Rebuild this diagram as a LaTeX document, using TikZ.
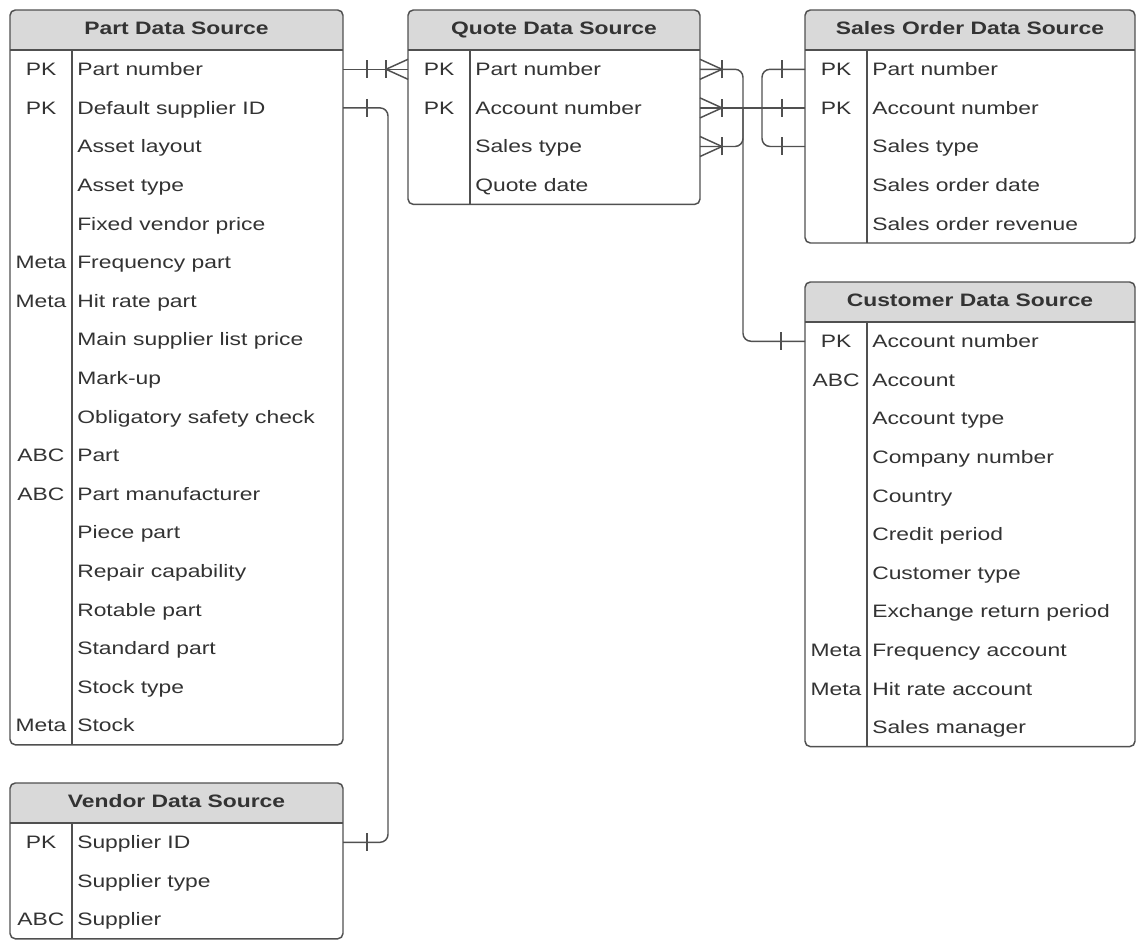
\documentclass[tikz,border=0pt]{standalone}
\usepackage{fontspec}
\setmainfont[FakeStretch=1.27]{Liberation Sans}
\usetikzlibrary{calc}
\definecolor{framegray}{HTML}{505050}
\definecolor{headgray}{HTML}{D9D9D9}
\definecolor{inkgray}{HTML}{333333}

\begin{document}
\begin{tikzpicture}[x=0.75pt, y=-0.75pt,
  font=\fontsize{13.5}{16}\selectfont, text=inkgray,
  datatable/.style={draw=framegray, line width=1.1pt, fill=white, rounded corners=4pt,
    inner sep=0pt, outer sep=0pt, anchor=north west,
    path picture={
      \fill[headgray, sharp corners] (path picture bounding box.north west) rectangle ([yshift=-30pt]path picture bounding box.north east);
      \draw[framegray, line width=1.1pt] ([yshift=-30pt]path picture bounding box.north west) -- ([yshift=-30pt]path picture bounding box.north east);
      \draw[framegray, line width=1.1pt] ([xshift=46.5pt,yshift=-30pt]path picture bounding box.north west) -- ([xshift=46.5pt]path picture bounding box.south west);}},
  tabletitle/.style={font=\fontsize{13.5}{16}\selectfont\bfseries, anchor=base},
  keytext/.style={inner sep=0pt, text height=9.7pt, text depth=0pt},
  fieldtext/.style={inner sep=0pt, text height=9.7pt, text depth=0pt, anchor=west},
  link/.style={draw=framegray, line width=1.1pt},
  onebar/.pic={\draw[link] (0,-9) -- (0,9);},
  manyfoot/.pic={\draw[link] (0,-10) -- (-22,0) -- (0,10); \draw[link] (-22,-9) -- (-22,9);}]
\useasboundingbox (0,0) rectangle (1136,941);
\fill[white] (0,0) rectangle (1136,941);

% tables
\node[datatable, minimum width=249.75pt, minimum height=551.1pt] (part) at (10,10) {};
\node[tabletitle] (part-title) at (176.5,34.5) {Part Data Source};
\foreach \k/\f [count=\i] in {PK/Part number, PK/Default supplier ID, /Asset layout, /Asset type,
  /Fixed vendor price, Meta/Frequency part, Meta/Hit rate part, /Main supplier list price, /Mark-up,
  /Obligatory safety check, ABC/Part, ABC/Part manufacturer, /Piece part, /Repair capability,
  /Rotable part, /Standard part, /Stock type, Meta/Stock}
{
  \node[keytext] (part-k\i) at (41,{30.7+38.6*\i}) {\k};
  \node[fieldtext] (part-\i) at (77,{30.7+38.6*\i}) {\f};
}

\node[datatable, minimum width=249.75pt, minimum height=116.85pt] (vendor) at (10,783) {};
\node[tabletitle] (vendor-title) at (176.5,807.5) {Vendor Data Source};
\foreach \k/\f [count=\i] in {PK/Supplier ID, /Supplier type, ABC/Supplier}
{
  \node[keytext] (vendor-k\i) at (41,{803.7+38.6*\i}) {\k};
  \node[fieldtext] (vendor-\i) at (77,{803.7+38.6*\i}) {\f};
}

\node[datatable, minimum width=219pt, minimum height=145.8pt] (quote) at (408,10) {};
\node[tabletitle] (quote-title) at (554,34.5) {Quote Data Source};
\foreach \k/\f [count=\i] in {PK/Part number, PK/Account number, /Sales type, /Quote date}
{
  \node[keytext] (quote-k\i) at (439,{30.7+38.6*\i}) {\k};
  \node[fieldtext] (quote-\i) at (475,{30.7+38.6*\i}) {\f};
}

\node[datatable, minimum width=247.5pt, minimum height=174.75pt] (sales) at (805,10) {};
\node[tabletitle] (sales-title) at (970,34.5) {Sales Order Data Source};
\foreach \k/\f [count=\i] in {PK/Part number, PK/Account number, /Sales type, /Sales order date,
  /Sales order revenue}
{
  \node[keytext] (sales-k\i) at (836,{30.7+38.6*\i}) {\k};
  \node[fieldtext] (sales-\i) at (872,{30.7+38.6*\i}) {\f};
}

\node[datatable, minimum width=247.5pt, minimum height=348.45pt] (customer) at (805,282) {};
\node[tabletitle] (customer-title) at (970,306.5) {Customer Data Source};
\foreach \k/\f [count=\i] in {PK/Account number, ABC/Account, /Account type, /Company number,
  /Country, /Credit period, /Customer type, /Exchange return period, Meta/Frequency account,
  Meta/Hit rate account, /Sales manager}
{
  \node[keytext] (customer-k\i) at (836,{302.7+38.6*\i}) {\k};
  \node[fieldtext] (customer-\i) at (872,{302.7+38.6*\i}) {\f};
}

% relations
\coordinate (vx) at (388,0);
\coordinate (qx) at (743,0);
\coordinate (sx) at (762,0);

\draw[link] (part-1 -| part.east) -- (quote-1 -| quote.west);
\pic at ($(part-1 -| part.east)+(24,0)$) {onebar};
\pic at (quote-1 -| quote.west) {manyfoot};

\draw[link, rounded corners=6pt] (part-2 -| part.east) -| (vx |- vendor-1) -- (vendor-1 -| vendor.east);
\pic at ($(part-2 -| part.east)+(24,0)$) {onebar};
\pic at ($(vendor-1 -| vendor.east)+(24,0)$) {onebar};

\draw[link, rounded corners=6pt] (quote-1 -| quote.east) -| (qx |- quote-2);
\draw[link, rounded corners=6pt] (quote-3 -| quote.east) -| (qx |- quote-2);
\draw[link] (quote-2 -| quote.east) -- (sales-2 -| sales.west);
\draw[link, rounded corners=6pt] (qx |- quote-2) |- (customer-1 -| customer.west);
\draw[link, rounded corners=6pt] (sx |- quote-2) |- (sales-1 -| sales.west);
\draw[link, rounded corners=6pt] (sx |- quote-2) |- (sales-3 -| sales.west);
\foreach \i in {1,2,3}
  \pic[rotate=180] at (quote-\i -| quote.east) {manyfoot};
\foreach \i in {1,2,3}
  \pic at ($(sales-\i -| sales.west)+(-23,0)$) {onebar};
\pic at ($(customer-1 -| customer.west)+(-24,0)$) {onebar};
\end{tikzpicture}
\end{document}
